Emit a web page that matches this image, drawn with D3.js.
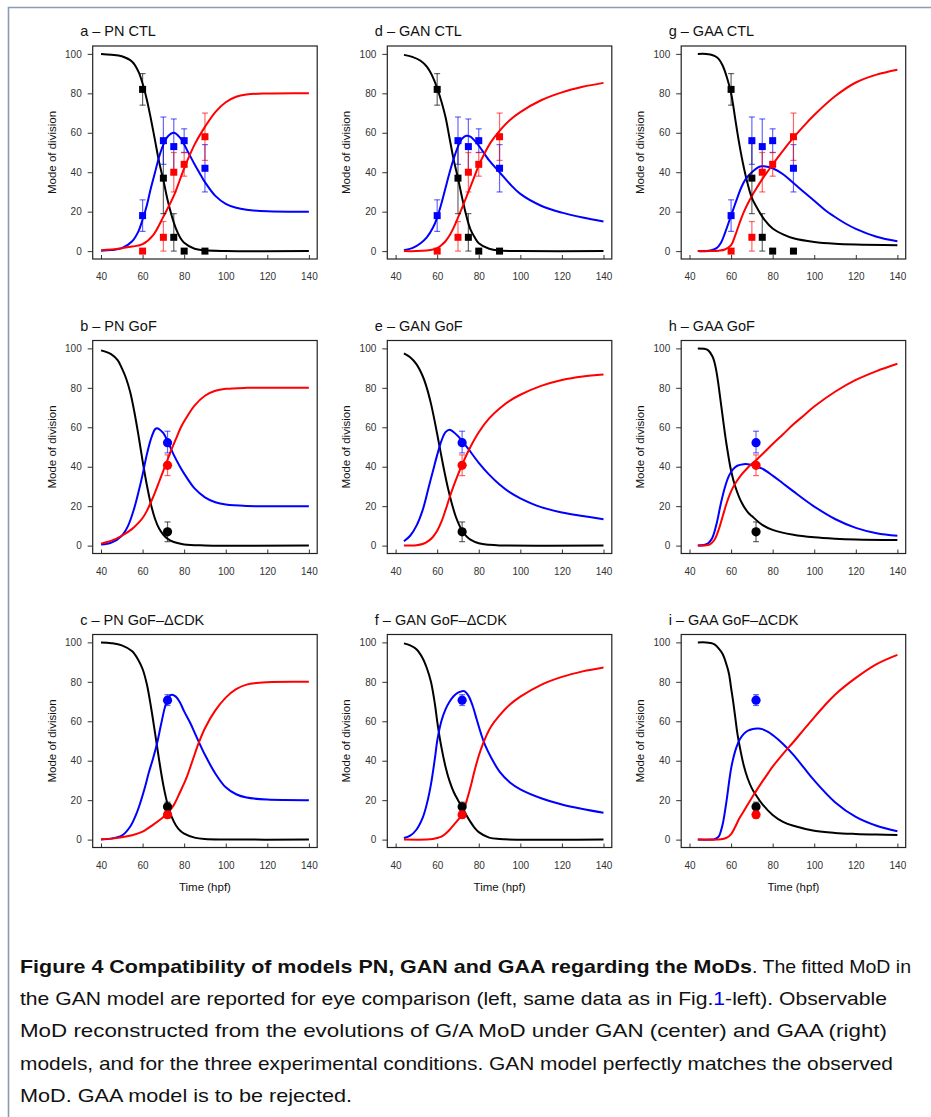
<!DOCTYPE html>
<html><head><meta charset="utf-8">
<script src="https://cdn.jsdelivr.net/npm/d3@7"></script>
<style>body{margin:0;background:#fff;} svg{display:block;}</style>
</head><body><svg id="c" width="931" height="1117"></svg>
<script>
// ---------- data ----------
const xTicks = [40, 60, 80, 100, 120, 140];
const yTicks = [0, 20, 40, 60, 80, 100];

const panelTitles = ["a – PN CTL", "b – PN GoF", "c – PN GoF–ΔCDK",
                     "d – GAN CTL", "e – GAN GoF", "f – GAN GoF–ΔCDK",
                     "g – GAA CTL", "h – GAA GoF", "i – GAA GoF–ΔCDK"];

// observed MoD (CTL): time, mean, low, high
const ctlTime = [60, 70, 75, 80, 90];
const ctlBlack = [82, 37, 7, 0, 0];
const ctlBlackLo = [74, 19, 0, null, null];
const ctlBlackHi = [90, 55, 19, null, null];
const ctlBlue = [18, 56, 53, 56, 42];
const ctlBlueLo = [10, 44, 39, 50, 30];
const ctlBlueHi = [26, 68, 67, 62, 54];
const ctlRed = [0, 7, 40, 44, 58];
const ctlRedLo = [null, 0, 30, 38, 46];
const ctlRedHi = [null, 15, 50, 50, 70];

// observed MoD (GoF) at 72 hpf
const gofTime = [72];
const gofBlack = [7], gofBlackLo = [2], gofBlackHi = [12];
const gofBlue = [52.2], gofBlueLo = [47], gofBlueHi = [58];
const gofRed = [40.7], gofRedLo = [35.5], gofRedHi = [46];

// observed MoD (GoF-ΔCDK) at 72 hpf
const cdkTime = [72];
const cdkBlack = [16.6], cdkBlackLo = [14.5], cdkBlackHi = [19];
const cdkBlue = [70.7], cdkBlueLo = [68], cdkBlueHi = [73.5];
const cdkRed = [12.6], cdkRedLo = [10.8], cdkRedHi = [14.4];

// fitted curves, [time, MoD]
const aBlack = [[40,100],[45,99.6],[50,98.8],[55,96],[58,91],[60,85],[62,77],[64,67],[66,56],[68,45],[70,36],[72,26],[74,18],[76,11.5],[78,7],[80,4.2],[85,1.2],[90,0.4],[100,0.05],[140,0]];
const aBlue = [[40,0.2],[45,0.5],[50,1.5],[55,5],[58,10],[60,16],[62,23],[64,32],[66,40],[68,48],[70,54],[72,58],[75,60],[78,57.5],[80,54],[82,50],[85,44],[88,38.5],[90,35],[95,28],[100,24],[105,22],[110,21],[120,20.2],[140,20]];
const aRed = [[40,0.5],[45,0.8],[50,1.5],[55,2.3],[60,3.5],[65,8],[70,17.5],[75,28],[80,42],[85,54],[90,63],[95,70.5],[100,75.5],[105,78.3],[110,79.4],[120,79.9],[140,80]];

const bBlack = [[40,99],[45,97],[48,94],[50,90],[52,85],[54,78],[56,68],[58,56],[60,43],[62,31],[64,21],[66,13.5],[68,8.5],[70,5.5],[72,3.5],[75,1.8],[80,0.6],[90,0.1],[140,0]];
const bBlue = [[40,0.5],[45,1.5],[50,5],[53,10],[56,19],[58,27],[60,36],[62,46],[64,54],[66,59],[67,59.5],[68,59],[70,57],[72,53],[75,46],[78,40],[80,36.5],[85,29],[90,24.5],[95,22],[100,20.8],[110,20.1],[140,20]];
const bRed = [[40,1],[45,2.5],[50,5],[55,8.5],[58,11.5],[60,14],[62,17.5],[64,22],[66,27],[68,32.5],[70,38],[72,43.5],[74,49],[76,54],[78,59],[80,63],[85,71],[90,76],[95,78.5],[100,79.5],[110,80],[140,80]];

const cBlack = [[40,100],[45,99.6],[50,98.5],[55,95.5],[58,91],[60,86.5],[62,79],[64,67.5],[66,54],[68,40],[70,27.5],[72,18],[74,11.5],[76,7.3],[78,4.6],[80,3],[85,1],[90,0.3],[100,0.05],[140,0]];
const cBlue = [[40,0],[45,0.5],[50,2],[54,6.5],[57,13],[59,19],[61,26],[63,34],[65,41],[67,49],[69,59],[71,68],[73,72.8],[74,73.4],[76,72.5],[78,69.5],[80,65],[83,59],[86,52],[90,43],[95,33.5],[100,26.5],[105,23],[110,21.3],[120,20.3],[140,20]];
const cRed = [[40,0.2],[45,0.5],[50,1.2],[55,2.2],[60,4],[65,7.5],[70,11.5],[72,13.5],[75,17.5],[78,24],[81,31],[84,40],[87,49],[90,56.5],[95,65.5],[100,72],[105,76.3],[110,78.6],[120,79.8],[140,80]];

const dBlack = [[44,99.5],[48,98.5],[52,96.5],[55,93.5],[58,88],[60,82.5],[62,76],[64,68],[66,57],[68,46],[70,37],[72,27],[74,18],[76,11],[78,7],[80,4],[85,1.2],[90,0.3],[100,0.05],[140,0]];
const dBlue = [[44,0.5],[48,1.5],[52,4],[55,7],[58,12],[60,17],[62,24],[64,32],[66,40],[68,47],[70,53],[72,57],[74,58.5],[76,58],[78,56],[80,53.5],[85,46],[90,40],[95,34],[100,29],[110,23],[120,19.5],[130,17],[140,15]];
const dRed = [[44,0],[50,0],[55,0.3],[58,0.8],[60,1.5],[62,3],[64,5],[66,8],[68,12],[70,17],[72,22],[75,30],[78,38],[80,43.5],[83,50],[86,55.5],[90,61],[95,66.5],[100,70.5],[110,76.5],[120,80.5],[130,83.3],[140,85.3]];

const eBlack = [[44,97.5],[47,95.5],[50,92],[53,86],[55,80],[57,72],[59,62],[61,51],[63,40],[65,30],[67,21.5],[69,14.5],[71,9.5],[72,7.5],[74,4.8],[76,3],[80,1.2],[85,0.4],[90,0.1],[140,0]];
const eBlue = [[44,2.2],[47,5],[50,10],[53,18],[56,30],[58,38],[60,46],[62,53],[64,57.5],[66,58.8],[68,57.5],[70,55.5],[72,53],[75,49],[80,42],[85,36],[90,31],[95,27],[100,24],[110,19.5],[120,16.8],[130,15],[140,13.4]];
const eRed = [[44,0],[50,0.2],[53,0.8],[56,2.5],[58,4.5],[60,7.5],[62,12],[64,18],[66,24.5],[68,30.5],[70,36],[72,41],[75,48],[80,57.5],[85,64.5],[90,69.5],[95,73.5],[100,76.5],[110,81],[120,84],[130,85.8],[140,86.8]];

const fBlack = [[44,99.5],[47,98.5],[50,96.5],[53,92],[55,87],[57,80],[59,68],[60,60],[62,47],[64,37],[66,29.5],[68,24],[70,20],[72,16.5],[74,12.5],[76,9],[78,6],[80,3.8],[85,1],[90,0.3],[140,0]];
const fBlue = [[44,0.8],[47,2],[50,5],[53,11],[55,18],[57,28],[59,42],[60,50],[62,60],[64,66],[66,70],[68,72.8],[70,74.5],[72,75.2],[73,75.3],[75,73],[77,68],[79,61],[81,54],[83,48],[86,41.5],[90,34.5],[95,29],[100,25.5],[110,21],[120,17.8],[130,15.5],[140,13.6]];
const fRed = [[44,0],[55,0],[58,0.3],[60,0.8],[62,1.5],[64,3],[66,5],[68,7.5],[70,10],[72,13],[74,19],[76,26.5],[78,35],[80,42.5],[82,48.5],[84,53.5],[86,57.5],[90,63],[95,68.5],[100,72.5],[110,78.5],[120,82.5],[130,85.3],[140,87.3]];

const gBlack = [[44,100],[48,100],[50,99.7],[52,99],[54,97.5],[56,94],[58,88],[60,80],[61,74],[62,67],[64,54],[66,43],[68,34],[70,27],[73,21],[76,16],[80,11.5],[85,8.5],[90,6.5],[100,4.6],[110,3.7],[120,3.3],[140,3]];
const gBlue = [[44,0],[50,0.3],[53,1.5],[55,4],[57,9],[59,15],[61,21],[63,27],[65,32.5],[67,36.5],[70,40],[73,42.5],[75,43],[78,42.7],[80,42],[85,39],[90,34.5],[95,30],[100,25.5],[105,21],[110,17.3],[115,14],[120,11.3],[130,7.3],[140,5]];
const gRed = [[44,0],[50,0],[54,0.2],[57,0.8],[60,3],[62,8],[64,14],[66,19.5],[68,24],[70,28],[72,31.5],[75,36.5],[78,41],[80,44],[85,51],[90,57.5],[95,63.5],[100,69],[110,78.5],[120,85.5],[130,89.5],[140,92]];

const hBlack = [[44,100],[47,99.8],[49,99],[51,96],[52,93],[53,88],[54,81],[55,73],[56,65],[57,57],[58,50],[60,38],[62,30],[65,22],[68,17],[70,15],[75,10.5],[80,8],[90,5.5],[100,4.2],[110,3.5],[120,3.1],[140,2.8]];
const hBlue = [[44,0],[47,0.3],[49,1.2],[51,4],[53,11],[55,21],[57,29.5],[59,35.5],[61,38.8],[63,40.5],[66,41.3],[68,41.3],[70,40.8],[75,39],[80,35.5],[85,31.5],[90,27.5],[95,23.5],[100,19.8],[110,13.5],[120,9],[130,6.3],[140,5]];
const hRed = [[44,0],[48,0.2],[50,0.8],[52,3],[54,8],[56,15],[58,22],[60,27.5],[62,31.5],[65,36],[68,39.5],[70,41.5],[72,43.3],[76,47.3],[80,51.5],[85,56.5],[90,61.5],[95,66],[100,70.5],[110,78],[120,84],[130,88.5],[140,92.2]];

const iBlack = [[44,100],[48,100],[50,99.7],[52,99],[54,97],[56,94],[58,88],[59,84],[60,77],[61,70],[62,62],[63,54],[64,48],[66,38],[68,31],[70,26],[72,22.5],[75,18],[80,12.5],[85,9],[90,7],[100,4.5],[110,3.4],[120,2.9],[130,2.6],[140,2.4]];
const iBlue = [[44,0],[50,0],[52,0.2],[54,1.5],[55,4],[56,8],[57,14],[58,21],[59,29],[60,36],[61,41],[62,45],[63,48],[64,50.5],[66,53.5],[68,55.2],[70,56],[73,56.3],[75,56],[78,54.5],[80,53],[85,48.5],[90,43],[95,36.5],[100,30],[110,19],[120,11.5],[130,7],[140,4.2]];
const iRed = [[44,0],[54,0],[56,0.3],[58,1],[60,2.8],[62,6.5],[64,10.8],[66,14.3],[68,17.8],[70,21.2],[72,24.6],[75,29.4],[78,34],[80,37],[85,43.5],[90,49.5],[95,55.8],[100,62],[105,68],[110,73.5],[120,82],[130,89],[140,93.7]];

// ---------- layout ----------
const colX = [92.7, 387.3, 681.2];
const rowY = [46, 340.5, 634.5];
const boxW = 224.5, boxH = 213;
const COL = {black: "#000000", blue: "#0000ff", red: "#ff0000"};

function obs(time, m, lo, hi) {
  return time.map((t, i) => ({t, m: m[i], lo: lo[i], hi: hi[i]}));
}
const obsSets = {
  ctl: {shape: "square", black: obs(ctlTime, ctlBlack, ctlBlackLo, ctlBlackHi),
        blue: obs(ctlTime, ctlBlue, ctlBlueLo, ctlBlueHi), red: obs(ctlTime, ctlRed, ctlRedLo, ctlRedHi)},
  gof: {shape: "circle", black: obs(gofTime, gofBlack, gofBlackLo, gofBlackHi),
        blue: obs(gofTime, gofBlue, gofBlueLo, gofBlueHi), red: obs(gofTime, gofRed, gofRedLo, gofRedHi)},
  cdk: {shape: "circle", black: obs(cdkTime, cdkBlack, cdkBlackLo, cdkBlackHi),
        blue: obs(cdkTime, cdkBlue, cdkBlueLo, cdkBlueHi), red: obs(cdkTime, cdkRed, cdkRedLo, cdkRedHi)}
};
const curveSets = [[aBlack,aBlue,aRed],[bBlack,bBlue,bRed],[cBlack,cBlue,cRed],
                   [dBlack,dBlue,dRed],[eBlack,eBlue,eRed],[fBlack,fBlue,fRed],
                   [gBlack,gBlue,gRed],[hBlack,hBlue,hRed],[iBlack,iBlue,iRed]];
const obsKeys = ["ctl","gof","cdk"];

const svg = d3.select("#c");
// page frame
svg.append("path").attr("d", "M8.5,1117V7.5H931").attr("fill","none")
   .attr("stroke","#8a9cb2").attr("stroke-width",1.6);

const AX_FONT = "Arial, 'Liberation Sans', Helvetica, sans-serif";

curveSets.forEach((cs, k) => {
  const col = Math.floor(k / 3), row = k % 3;
  const L = colX[col], T = rowY[row];
  const x = d3.scaleLinear().domain([36, 144]).range([L, L + boxW]);
  const y = d3.scaleLinear().domain([-4, 104]).range([T + boxH, T]);
  const g = svg.append("g");

  // title
  g.append("text").attr("x", L - 12.5).attr("y", T - 10).text(panelTitles[k])
    .style("font-family", AX_FONT).style("font-size", "14.5px").attr("fill", "#111");

  // y axis
  const ya = g.append("g").attr("transform", `translate(${L},0)`)
    .call(d3.axisLeft(y).tickValues(yTicks).tickSize(5).tickPadding(6));
  ya.select(".domain").remove();
  // x axis (inward ticks)
  const xa = g.append("g").attr("transform", `translate(0,${T + boxH})`)
    .call(d3.axisBottom(x).tickValues(xTicks).tickSizeInner(-4).tickSizeOuter(0).tickPadding(14.2));
  xa.select(".domain").remove();
  [ya, xa].forEach(a => {
    a.attr("font-family", null).attr("font-size", null);
    a.selectAll("text").style("font-family", AX_FONT).style("font-size", "10px").attr("fill", "#333");
    a.selectAll("line").attr("stroke", "#333");
  });

  // box
  g.append("rect").attr("x", L).attr("y", T).attr("width", boxW).attr("height", boxH)
    .attr("fill", "none").attr("stroke", "#222").attr("stroke-width", 1.2);

  // axis titles
  g.append("text").attr("transform", `translate(${L - 37},${T + boxH / 2}) rotate(-90)`)
    .attr("text-anchor", "middle").style("font-family", AX_FONT).style("font-size", "11.5px")
    .attr("fill", "#111").text("Mode of division");
  if (row === 2) {
    g.append("text").attr("x", L + boxW / 2).attr("y", T + boxH + 43)
      .attr("text-anchor", "middle").style("font-family", AX_FONT).style("font-size", "11.5px")
      .attr("fill", "#111").text("Time (hpf)");
  }

  // fitted curves
  const line = d3.line().x(d => x(d[0])).y(d => y(d[1])).curve(d3.curveCatmullRom.alpha(0.5));
  ["black","blue","red"].forEach((c, j) => {
    g.append("path").attr("d", line(cs[j])).attr("fill", "none")
      .attr("stroke", COL[c]).attr("stroke-width", 2);
  });

  // observations
  const os = obsSets[obsKeys[row]];
  ["black","blue","red"].forEach(c => {
    const pts = os[c];
    const bars = g.append("g").attr("stroke", COL[c]).attr("stroke-opacity", 0.6).attr("stroke-width", 1.2);
    pts.filter(p => p.lo !== null).forEach(p => {
      bars.append("line").attr("x1", x(p.t)).attr("x2", x(p.t)).attr("y1", y(p.lo)).attr("y2", y(p.hi));
      bars.append("line").attr("x1", x(p.t) - 3).attr("x2", x(p.t) + 3).attr("y1", y(p.lo)).attr("y2", y(p.lo));
      bars.append("line").attr("x1", x(p.t) - 3).attr("x2", x(p.t) + 3).attr("y1", y(p.hi)).attr("y2", y(p.hi));
    });
    if (os.shape === "square") {
      g.selectAll(null).data(pts).enter().append("rect")
        .attr("x", p => x(p.t) - 3.5).attr("y", p => y(p.m) - 3.5)
        .attr("width", 7).attr("height", 7).attr("fill", COL[c]);
    } else {
      g.selectAll(null).data(pts).enter().append("circle")
        .attr("cx", p => x(p.t)).attr("cy", p => y(p.m)).attr("r", 4.6).attr("fill", COL[c]);
    }
  });
});

// ---------- caption ----------
const CAP_FONT = "'Liberation Sans Narrow', Arial, 'Liberation Sans', sans-serif";
const capBold = "Figure 4  Compatibility of models PN, GAN and GAA regarding the MoDs";
const capLines = [
  [{t: ". The fitted MoD in"}],
  [{t: "the GAN model are reported for eye comparison (left, same data as in Fig."}, {t: "1", link: true}, {t: "-left). Observable"}],
  [{t: "MoD reconstructed from the evolutions of G/A MoD under GAN (center) and GAA (right)"}],
  [{t: "models, and for the three experimental conditions. GAN model perfectly matches the observed"}],
  [{t: "MoD. GAA model is to be rejected."}]
];
const capLineEnds = [911, 887, 887, 893, 352];
const capY0 = 973, capDY = 32.2, capX = 20, capSize = 18.5;

const cap = svg.append("g").style("font-family", CAP_FONT).style("font-size", capSize + "px").attr("fill", "#111");
cap.append("text").attr("x", capX).attr("y", capY0).attr("font-weight", "bold")
  .attr("textLength", 752 - capX).attr("lengthAdjust", "spacingAndGlyphs").text(capBold);
capLines.forEach((ln, i) => {
  const sx = i === 0 ? 752 : capX;
  const t = cap.append("text").attr("x", sx).attr("y", capY0 + i * capDY)
    .attr("textLength", capLineEnds[i] - sx).attr("lengthAdjust", "spacingAndGlyphs");
  ln.forEach(s => t.append("tspan").text(s.t).attr("fill", s.link ? "#0000ee" : "#111"));
});
</script>
</body></html>
